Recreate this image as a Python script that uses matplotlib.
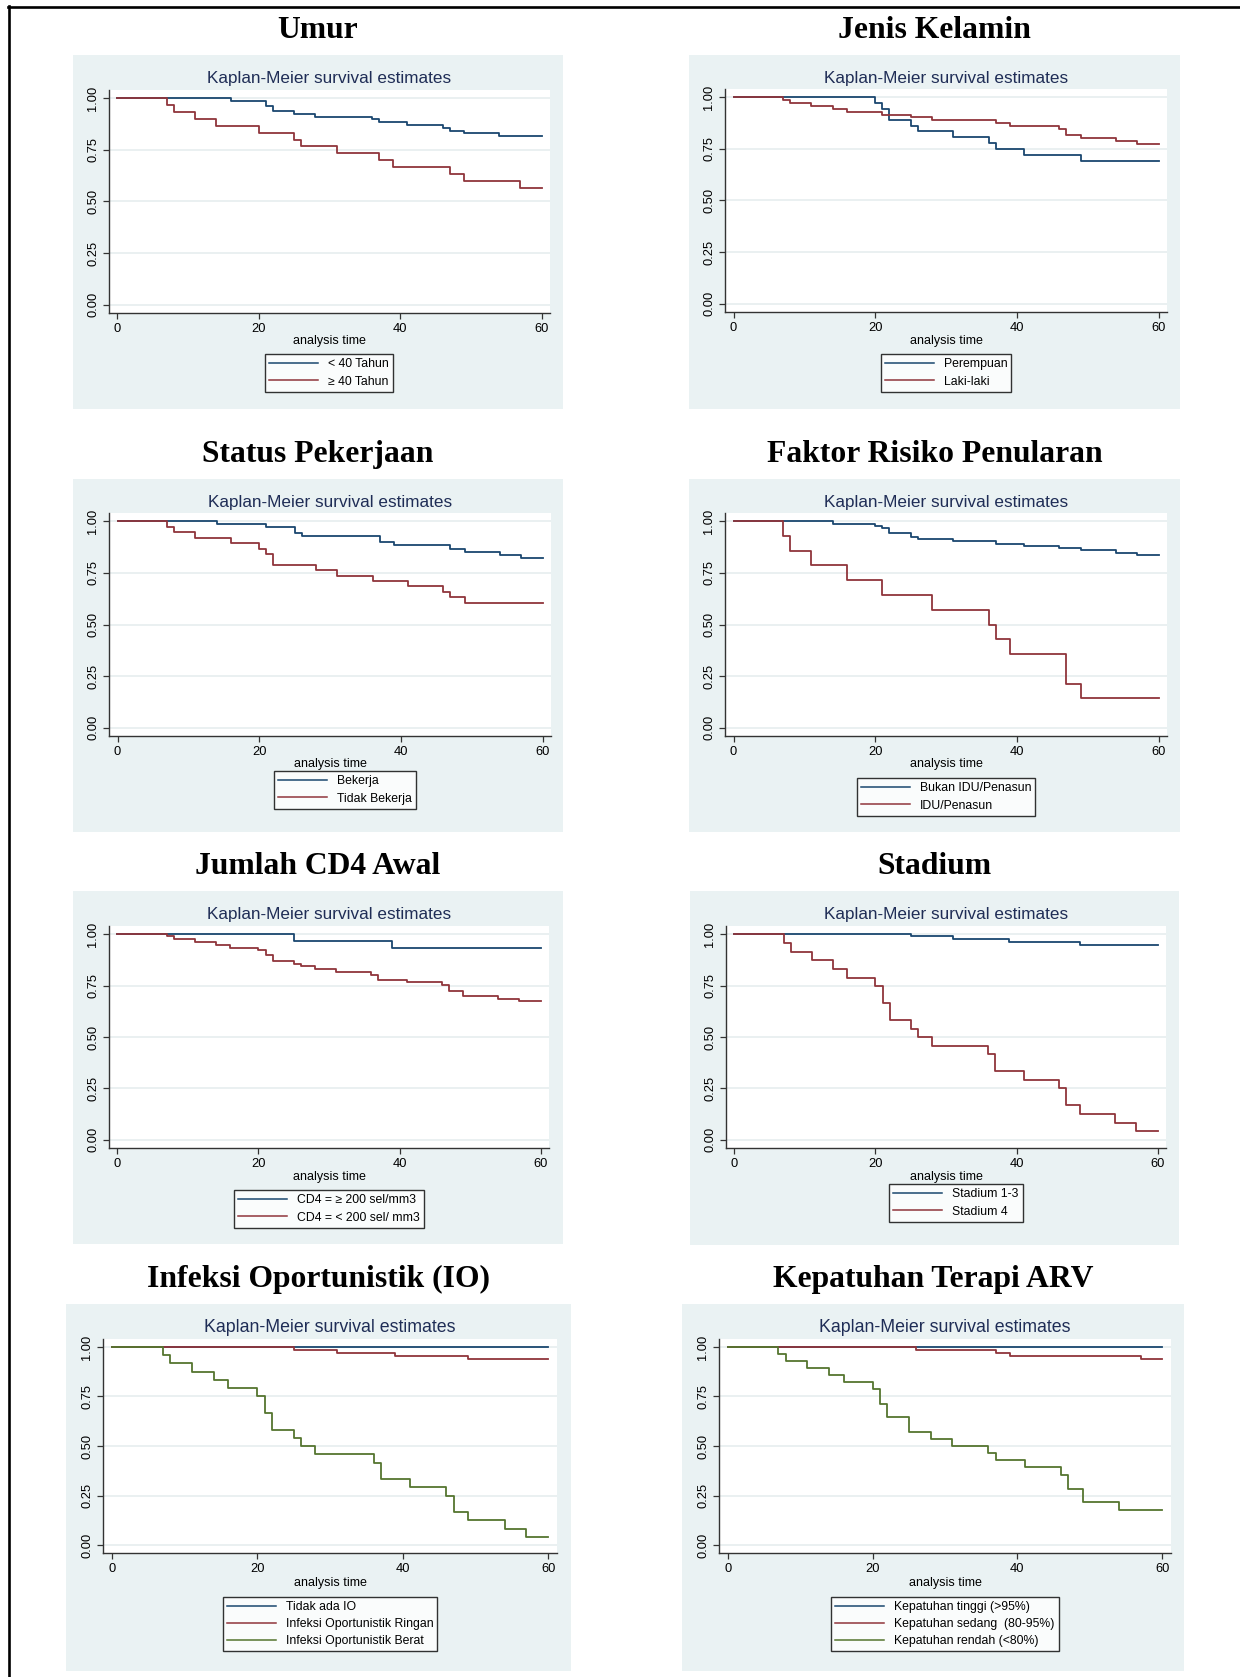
import matplotlib
matplotlib.use("Agg")
import matplotlib.pyplot as plt
from matplotlib.patches import Rectangle
from matplotlib.lines import Line2D

W, H = 1240, 1677

NAVY = "#1a476f"
MAROON = "#90353b"
GREEN = "#55752f"
PANEL_BG = "#eaf2f3"
GRID = "#e6eeef"
TITLE_COL = "#1f2d56"

# ---- data (times where the curve steps down, survival value from that time on) ----
umur_t1 = [0, 16, 21, 22, 25, 28, 36, 37, 41, 46, 47, 49, 54]
umur_s1 = [1.0, 0.988, 0.963, 0.937, 0.924, 0.911, 0.898, 0.885, 0.872, 0.857, 0.843, 0.830, 0.815]
umur_t2 = [0, 7, 8, 11, 14, 20, 25, 26, 31, 37, 39, 47, 49, 57]
umur_s2 = [1.0, 0.967, 0.933, 0.900, 0.867, 0.833, 0.800, 0.767, 0.733, 0.700, 0.667, 0.633, 0.600, 0.567]

jk_t1 = [0, 20, 21, 22, 25, 26, 31, 36, 37, 41, 49]
jk_s1 = [1.0, 0.973, 0.945, 0.892, 0.863, 0.838, 0.807, 0.778, 0.751, 0.719, 0.691]
jk_t2 = [0, 7, 8, 11, 14, 16, 21, 25, 28, 37, 39, 46, 47, 49, 54, 57]
jk_s2 = [1.0, 0.986, 0.973, 0.958, 0.944, 0.929, 0.916, 0.904, 0.889, 0.875, 0.859, 0.844, 0.817, 0.802, 0.788, 0.773]

kerja_t1 = [0, 14, 21, 25, 26, 37, 39, 47, 49, 54, 57]
kerja_s1 = [1.0, 0.986, 0.971, 0.942, 0.929, 0.899, 0.884, 0.868, 0.852, 0.838, 0.823]
kerja_t2 = [0, 7, 8, 11, 16, 20, 21, 22, 28, 31, 36, 41, 46, 47, 49]
kerja_s2 = [1.0, 0.973, 0.947, 0.921, 0.894, 0.868, 0.841, 0.789, 0.762, 0.736, 0.711, 0.685, 0.659, 0.632, 0.605]

idu_t1 = [0, 14, 20, 21, 22, 25, 26, 31, 37, 41, 46, 49, 54, 57]
idu_s1 = [1.0, 0.987, 0.977, 0.968, 0.945, 0.926, 0.915, 0.904, 0.892, 0.881, 0.871, 0.859, 0.847, 0.836]
idu_t2 = [0, 7, 8, 11, 16, 21, 28, 36, 37, 39, 47, 49]
idu_s2 = [1.0, 0.929, 0.857, 0.786, 0.714, 0.643, 0.571, 0.500, 0.429, 0.357, 0.214, 0.143]

cd4_t1 = [0, 25, 39]
cd4_s1 = [1.0, 0.968, 0.934]
cd4_t2 = [0, 7, 8, 11, 14, 16, 20, 21, 22, 25, 26, 28, 31, 36, 37, 41, 46, 47, 49, 54, 57]
cd4_s2 = [1.0, 0.989, 0.976, 0.962, 0.948, 0.935, 0.923, 0.897, 0.870, 0.857, 0.845, 0.832,
          0.817, 0.804, 0.779, 0.766, 0.753, 0.726, 0.700, 0.686, 0.673]

std_t1 = [0, 25, 31, 39, 49]
std_s1 = [1.0, 0.989, 0.976, 0.963, 0.950]
std_t2 = [0, 7, 8, 11, 14, 16, 20, 21, 22, 25, 26, 28, 36, 37, 41, 46, 47, 49, 54, 57]
std_s2 = [1.0, 0.957, 0.915, 0.873, 0.831, 0.789, 0.750, 0.667, 0.583, 0.541, 0.500, 0.457,
          0.415, 0.333, 0.291, 0.250, 0.167, 0.125, 0.083, 0.042]

io_t1 = [0]
io_s1 = [1.0]
io_t2 = [0, 25, 31, 39, 49]
io_s2 = [1.0, 0.983, 0.970, 0.954, 0.941]
io_t3 = [0, 7, 8, 11, 14, 16, 20, 21, 22, 25, 26, 28, 36, 37, 41, 46, 47, 49, 54, 57]
io_s3 = [1.0, 0.959, 0.917, 0.875, 0.833, 0.791, 0.750, 0.666, 0.583, 0.541, 0.498, 0.458,
         0.416, 0.333, 0.291, 0.248, 0.167, 0.125, 0.083, 0.042]

arv_t1 = [0]
arv_s1 = [1.0]
arv_t2 = [0, 26, 37, 39, 57]
arv_s2 = [1.0, 0.985, 0.971, 0.954, 0.939]
arv_t3 = [0, 7, 8, 11, 14, 16, 20, 21, 22, 25, 28, 31, 36, 37, 41, 46, 47, 49, 54]
arv_s3 = [1.0, 0.965, 0.929, 0.893, 0.856, 0.823, 0.786, 0.713, 0.644, 0.572, 0.536, 0.500,
          0.463, 0.427, 0.392, 0.356, 0.285, 0.215, 0.178]

T_END = 60

# ---- layout: (title, series, panel box, axes box, legend centre, xlabel y, km-title y, heading y) in px ----
panels = [
    ("Umur", [("< 40 Tahun", umur_t1, umur_s1, NAVY), ("≥ 40 Tahun", umur_t2, umur_s2, MAROON)],
     (73, 55, 563, 409), (109, 90, 550, 313), (329, 373), 341, 78, 30),
    ("Jenis Kelamin", [("Perempuan", jk_t1, jk_s1, NAVY), ("Laki-laki", jk_t2, jk_s2, MAROON)],
     (689, 55, 1180, 409), (725, 89, 1167, 312), (946, 373), 341, 78, 30),
    ("Status Pekerjaan", [("Bekerja", kerja_t1, kerja_s1, NAVY), ("Tidak Bekerja", kerja_t2, kerja_s2, MAROON)],
     (73, 479, 563, 832), (109, 513, 551, 736), (345, 790), 764, 502, 454),
    ("Faktor Risiko Penularan", [("Bukan IDU/Penasun", idu_t1, idu_s1, NAVY), ("IDU/Penasun", idu_t2, idu_s2, MAROON)],
     (689, 479, 1180, 832), (725, 513, 1167, 736), (946, 797), 764, 502, 454),
    ("Jumlah CD4 Awal", [("CD4 = ≥ 200 sel/mm3", cd4_t1, cd4_s1, NAVY), ("CD4 = < 200 sel/ mm3", cd4_t2, cd4_s2, MAROON)],
     (73, 891, 563, 1244), (109, 926, 549, 1148), (329, 1209), 1177, 914, 866),
    ("Stadium", [("Stadium 1-3", std_t1, std_s1, NAVY), ("Stadium 4", std_t2, std_s2, MAROON)],
     (690, 891, 1179, 1245), (726, 926, 1166, 1148), (956, 1203), 1177, 914, 866),
    ("Infeksi Oportunistik (IO)", [("Tidak ada IO", io_t1, io_s1, NAVY),
                                   ("Infeksi Oportunistik Ringan", io_t2, io_s2, MAROON),
                                   ("Infeksi Oportunistik Berat", io_t3, io_s3, GREEN)],
     (66, 1304, 571, 1671), (103, 1339, 557, 1553), (330, 1624), 1583, 1328, 1279),
    ("Kepatuhan Terapi ARV", [("Kepatuhan tinggi (>95%)", arv_t1, arv_s1, NAVY),
                              ("Kepatuhan sedang  (80-95%)", arv_t2, arv_s2, MAROON),
                              ("Kepatuhan rendah (<80%)", arv_t3, arv_s3, GREEN)],
     (682, 1304, 1184, 1671), (719, 1339, 1171, 1553), (945, 1624), 1583, 1328, 1279),
]

plt.rcParams['font.family'] = ['Liberation Sans', 'DejaVu Sans']

fig = plt.figure(figsize=(W / 100, H / 100), dpi=100)
fig.patch.set_facecolor("white")


def fx(x):
    return x / W


def fy(y):
    return 1 - y / H


# outer frame (top and left only)
fig.add_artist(Line2D([fx(8), fx(W)], [fy(6.5), fy(6.5)], color="black", lw=1.9, transform=fig.transFigure))
fig.add_artist(Line2D([fx(9), fx(9)], [fy(6), fy(H)], color="black", lw=1.9, transform=fig.transFigure))

for title, series, pbox, abox, legc, xlab_y, km_y, head_y in panels:
    px0, py0, px1, py1 = pbox
    fig.add_artist(Rectangle((fx(px0), fy(py1)), fx(px1 - px0), (py1 - py0) / H,
                             facecolor=PANEL_BG, edgecolor="none", transform=fig.transFigure, zorder=-5))
    fig.text(fx((px0 + px1) / 2), fy(head_y), title, family="Liberation Serif", weight="bold",
             fontsize=22.8, ha="center", va="center")

    ax0, ay0, ax1, ay1 = abox
    big = len(series) > 2
    ax = fig.add_axes([fx(ax0), fy(ay1), fx(ax1 - ax0), (ay1 - ay0) / H])
    ax.set_facecolor("white")
    handles = []
    for label, t, s, col in series:
        h, = ax.step(t + [T_END], s + [s[-1]], where="post", color=col, lw=1.3, label=label)
        handles.append(h)
    ax.set_xlim(-1.2, 61.2)
    ax.set_ylim(-0.04, 1.04)
    ax.set_xticks([0, 20, 40, 60])
    ax.set_yticks([0, 0.25, 0.5, 0.75, 1.0])
    ax.set_yticklabels(["0.00", "0.25", "0.50", "0.75", "1.00"], rotation=90, va="center")
    ax.grid(axis="y", color=GRID, lw=1.2)
    ax.set_axisbelow(True)
    for side in ("top", "right"):
        ax.spines[side].set_visible(False)
    for side in ("left", "bottom"):
        ax.spines[side].set_color("#333333")
        ax.spines[side].set_linewidth(1.0)
    ax.tick_params(direction="out", length=4, width=0.9, color="#333333", labelsize=9.3, pad=3)

    cx = fx((ax0 + ax1) / 2)
    fig.text(cx, fy(km_y), "Kaplan-Meier survival estimates", color=TITLE_COL,
             fontsize=12.8 if big else 12.3, ha="center", va="center")
    fig.text(cx, fy(xlab_y), "analysis time", fontsize=9, ha="center", va="center")

    leg = fig.legend(handles=handles, loc="center", bbox_to_anchor=(fx(legc[0]), fy(legc[1])),
                     fontsize=8.8, frameon=True, fancybox=False, handlelength=4.0,
                     handletextpad=0.8, borderpad=0.35, labelspacing=0.42)
    leg.get_frame().set_edgecolor("black")
    leg.get_frame().set_linewidth(1.0)
    for ln in leg.get_lines():
        ln.set_linewidth(1.1)

fig.savefig("out.png", dpi=100)
